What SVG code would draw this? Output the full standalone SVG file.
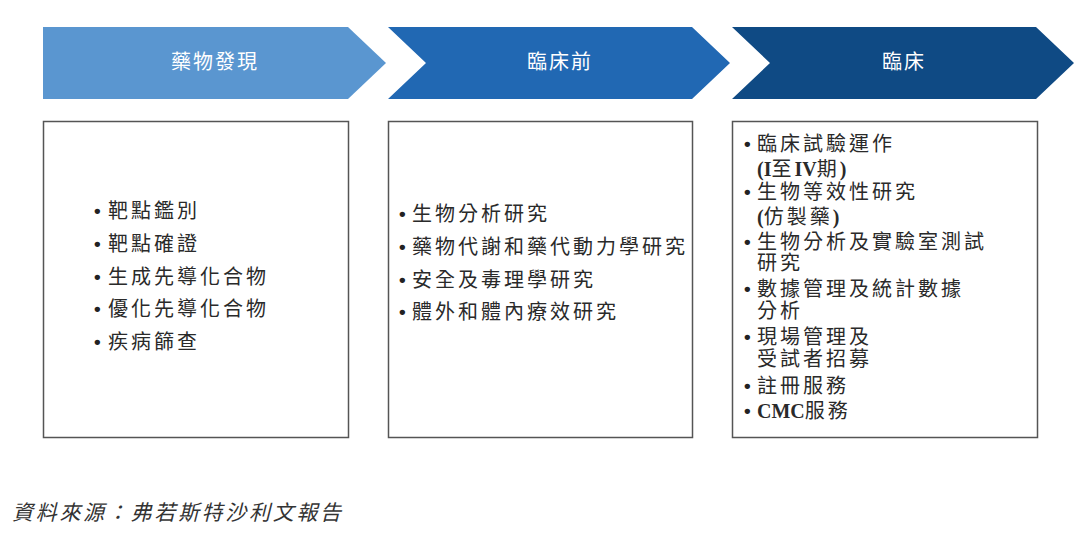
<svg xmlns="http://www.w3.org/2000/svg" width="1087" height="547" viewBox="0 0 1087 547">
<style>
.chev-label{font-family:"Noto Sans CJK TC","Noto Sans",sans-serif;font-size:20px;fill:#ffffff;text-anchor:middle;letter-spacing:2px}
.box{fill:#ffffff;stroke:#555555;stroke-width:1.5}
.item{font-family:"Liberation Serif","Noto Sans CJK TC",serif;font-size:20px;fill:#2a2a2a;letter-spacing:3px}
.lat{letter-spacing:0px;font-weight:bold}
.dot{font-family:"Liberation Sans",sans-serif;font-size:19px;fill:#222222;font-weight:bold}
.src{font-family:"Liberation Serif","Noto Sans CJK TC",serif;font-size:21px;fill:#333333;font-style:italic;letter-spacing:2.7px}
</style>
<rect width="1087" height="547" fill="#ffffff"/>
<g id="stage-discovery">
<polygon points="43,27 348,27 386,63 348,99 43,99" fill="#5A96D0"/>
<text class="chev-label" x="215" y="69">藥物發現</text>
</g>
<g id="stage-preclinical">
<polygon points="388,27 692,27 730,63 692,99 388,99 426,63" fill="#2168B3"/>
<text class="chev-label" x="560" y="69">臨床前</text>
</g>
<g id="stage-clinical">
<polygon points="732,27 1036,27 1074,63 1036,99 732,99 770,63" fill="#0F4A84"/>
<text class="chev-label" x="904" y="69">臨床</text>
</g>
<g id="box-discovery">
<rect class="box" x="43.5" y="121.5" width="305" height="316"/>
<text class="dot" x="94" y="217">•</text><text class="item" x="108" y="218">靶點鑑別</text>
<text class="dot" x="94" y="250">•</text><text class="item" x="108" y="251">靶點確證</text>
<text class="dot" x="94" y="283">•</text><text class="item" x="108" y="284">生成先導化合物</text>
<text class="dot" x="94" y="315">•</text><text class="item" x="108" y="316">優化先導化合物</text>
<text class="dot" x="94" y="348">•</text><text class="item" x="108" y="349">疾病篩查</text>
</g>
<g id="box-preclinical">
<rect class="box" x="388.5" y="121.5" width="304" height="316"/>
<text class="dot" x="399" y="220">•</text><text class="item" x="412" y="221">生物分析研究</text>
<text class="dot" x="399" y="253">•</text><text class="item" x="412" y="254">藥物代謝和藥代動力學研究</text>
<text class="dot" x="399" y="286">•</text><text class="item" x="412" y="287">安全及毒理學研究</text>
<text class="dot" x="399" y="318">•</text><text class="item" x="412" y="319">體外和體內療效研究</text>
</g>
<g id="box-clinical">
<rect class="box" x="732.5" y="121.5" width="305" height="316"/>
<text class="dot" x="744" y="150">•</text><text class="item" x="757" y="151">臨床試驗運作</text>
<text class="item" x="757" y="176"><tspan class="lat">(I</tspan>至<tspan class="lat">IV</tspan>期<tspan class="lat">)</tspan></text>
<text class="dot" x="744" y="198">•</text><text class="item" x="757" y="199">生物等效性研究</text>
<text class="item" x="757" y="224"><tspan class="lat">(</tspan>仿製藥<tspan class="lat">)</tspan></text>
<text class="dot" x="744" y="248">•</text><text class="item" x="757" y="249">生物分析及實驗室測試</text>
<text class="item" x="757" y="270">研究</text>
<text class="dot" x="744" y="295">•</text><text class="item" x="757" y="296">數據管理及統計數據</text>
<text class="item" x="757" y="318">分析</text>
<text class="dot" x="744" y="343">•</text><text class="item" x="757" y="344">現場管理及</text>
<text class="item" x="757" y="366">受試者招募</text>
<text class="dot" x="744" y="392">•</text><text class="item" x="757" y="393">註冊服務</text>
<text class="dot" x="744" y="417">•</text><text class="item" x="757" y="418"><tspan class="lat">CMC</tspan>服務</text>
</g>
<g id="connectors"></g>
<text class="src" x="12" y="520">資料來源：弗若斯特沙利文報告</text>
</svg>
